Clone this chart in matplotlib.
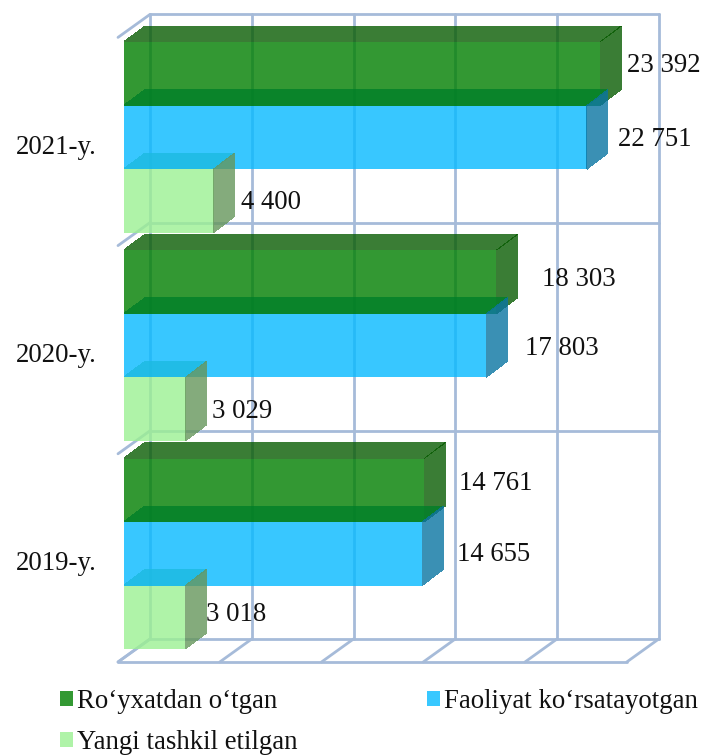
"""Horizontal 3D-look bar chart, drawn with flat polygons."""

import matplotlib as mpl
from matplotlib import patches as mpatches
from matplotlib import pyplot as plt

mpl.rcParams["font.family"] = ["Liberation Serif", "DejaVu Serif"]

YEARS = ["2019-y.", "2020-y.", "2021-y."]
REGISTERED = [14761, 18303, 23392]
ACTIVE = [14655, 17803, 22751]
NEW = [3018, 3029, 4400]
SERIES_NAMES = ["Ro‘yxatdan o‘tgan", "Faoliyat ko‘rsatayotgan", "Yangi tashkil etilgan"]
TICKS = [0, 5000, 10000, 15000, 20000, 25000]

WIDTH, HEIGHT = 716, 756
PX_X = 0.02035  # px per value unit
PX_Y = 208.2  # px per category band
X0, Y0 = 124, 649  # px position of value 0, band 0 on the front of the bars
BAR_H = 63.5 / PX_Y
BAR_DX, BAR_DY = 21 / PX_X, 16 / PX_Y
GRID = "#a6bbd9"
# (front, top, side), all drawn with ALPHA
COLORS = [
    ("#007f00", "#095c02", "#095c02"),
    ("#06baff", "#007f28", "#0974a2"),
    ("#9bf092", "#1cbae0", "#65965b"),
]
ALPHA = 0.8
FONTSIZE = 19.3
# label shift from the end of each bar, px (right, down), per year and series
LABEL_SHIFT = [
    [(14, -7), (14, 1), (0, -3)],
    [(25, -3), (18, 3), (5, 2)],
    [(6, -8), (10, 2), (6, 2)],
]


def draw_bar(ax, value, bottom, colors):
    top = bottom + BAR_H
    seam = 0.4 / PX_Y  # keeps the roof from doubling up on the front's top row
    front, roof, side = colors
    style = {"alpha": ALPHA, "lw": 0, "zorder": 3, "antialiased": False}
    ax.fill([0, value, value, 0], [bottom, bottom, top, top], color=front, **style)
    ax.fill(
        [0, BAR_DX, value + BAR_DX, value],
        [top + seam, top + BAR_DY, top + BAR_DY, top + seam],
        color=roof,
        **style,
    )
    ax.fill(
        [value, value + BAR_DX, value + BAR_DX, value],
        [bottom, bottom + BAR_DY, top + BAR_DY, top],
        color=side,
        **style,
    )


def draw_grid(ax):
    back_x, back_y = 26 / PX_X, 10 / PX_Y
    front_x, front_y = -6 / PX_X, -13 / PX_Y
    style = {"color": GRID, "lw": 2.0, "zorder": 1, "solid_capstyle": "round"}
    for t in TICKS:
        ax.plot([t + back_x] * 2, [back_y, back_y + len(YEARS)], **style)
        ax.plot([t + front_x, t + back_x], [front_y, back_y], **style)
    for i in range(len(YEARS) + 1):
        ax.plot([TICKS[0] + back_x, TICKS[-1] + back_x], [back_y + i] * 2, **style)
        ax.plot([front_x, back_x], [front_y + i, back_y + i], **style)
    ax.plot([front_x, TICKS[-1] + front_x], [front_y, front_y], **style)


def main():
    fig = plt.figure(figsize=(WIDTH / 100, HEIGHT / 100), dpi=100)
    ax = fig.add_axes([0, 0, 1, 1])
    ax.set_xlim(-X0 / PX_X, (WIDTH - X0) / PX_X)
    ax.set_ylim((Y0 - HEIGHT) / PX_Y, Y0 / PX_Y)
    ax.axis("off")
    draw_grid(ax)

    for i, year in enumerate(YEARS):
        values = [REGISTERED[i], ACTIVE[i], NEW[i]]
        for j, (value, colors) in enumerate(zip(values, COLORS, strict=True)):
            bottom = i + (2 - j) * BAR_H
            draw_bar(ax, value, bottom, colors)
            dx, dy = LABEL_SHIFT[i][j]
            ax.annotate(
                f"{value:,}".replace(",", " "),
                (value + BAR_DX, bottom + BAR_H / 2),
                xytext=(dx * 0.72, -dy * 0.72),
                textcoords="offset points",
                ha="left",
                va="center",
                fontsize=FONTSIZE,
                color="#111111",
                zorder=5,
            )
        ax.annotate(
            year,
            (0, i + 1.5 * BAR_H),
            xytext=(-27 * 0.72, -10 * 0.72),
            textcoords="offset points",
            ha="right",
            va="center",
            fontsize=FONTSIZE,
            color="#111111",
        )

    handles = [mpatches.Patch(facecolor=c, lw=0) for c in ("#339933", "#aff3a8", "#38c8ff")]
    ax.legend(
        handles,
        [SERIES_NAMES[0], SERIES_NAMES[2], SERIES_NAMES[1]],
        ncol=2,
        loc="lower left",
        bbox_to_anchor=(60 / WIDTH, 1 / HEIGHT),
        frameon=False,
        fontsize=FONTSIZE,
        handlelength=0.5,
        handleheight=0.5,
        handletextpad=0.15,
        columnspacing=4.8,
        labelspacing=0.6,
        borderpad=0,
        borderaxespad=0,
        labelcolor="#111111",
    )
    fig.savefig("out.png", dpi=100)
    plt.close("all")


if __name__ == "__main__":
    main()
